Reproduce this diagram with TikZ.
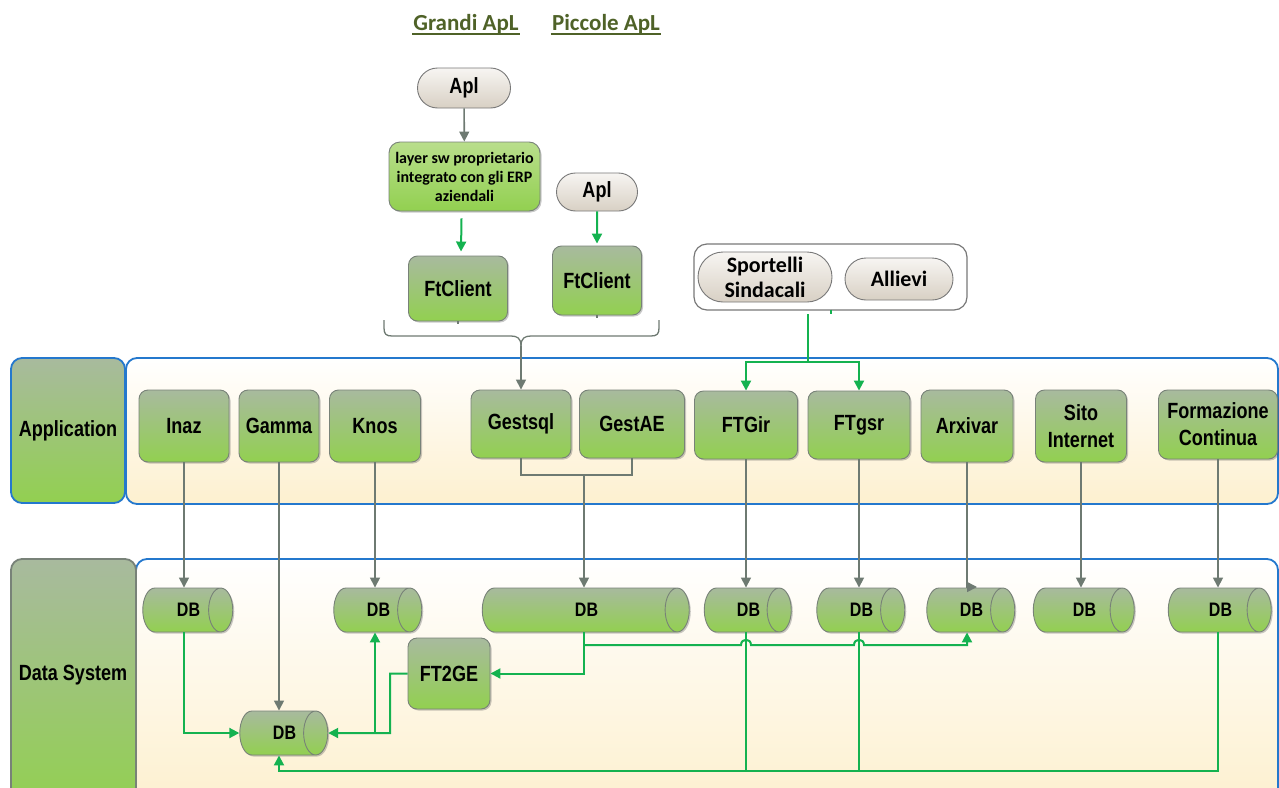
\documentclass[tikz,border=0pt]{standalone}
\usepackage{fontspec}
\setmainfont{Liberation Sans}
\newfontfamily\narfont{Liberation Sans}[FakeStretch=0.82]
\newfontfamily\calfont{Carlito}
\usetikzlibrary{arrows.meta,shapes.misc,shapes.geometric,shadows,calc}
\definecolor{ntop}{RGB}{168,186,158}
\definecolor{nbot}{RGB}{146,208,80}
\definecolor{nborder}{RGB}{120,130,120}
\definecolor{ltop}{RGB}{185,222,140}
\definecolor{ptop}{RGB}{247,245,242}
\definecolor{pbot}{RGB}{216,208,196}
\definecolor{pborder}{RGB}{120,120,120}
\definecolor{gcol}{RGB}{20,178,80}
\definecolor{acol}{RGB}{110,122,114}
\definecolor{bcol}{RGB}{36,120,205}
\definecolor{lanebot}{RGB}{253,240,207}
\definecolor{titlecol}{RGB}{79,98,40}
\begin{document}
\begin{tikzpicture}[x=1pt,y=-1pt,
  shad/.style={drop shadow={shadow xshift=1.5pt,shadow yshift=-1.5pt,opacity=0.3,fill=black!70}},
  appn/.style={shad,rounded corners=9pt,draw=nborder,line width=0.9pt,top color=ntop,bottom color=nbot,
    font=\narfont\bfseries\fontsize{22}{27}\selectfont,align=center,inner sep=0pt,text=black},
  layerbox/.style={appn,top color=ltop,rounded corners=11pt,font=\calfont\bfseries\fontsize{16}{19}\selectfont},
  dbn/.style={shad,cylinder,shape aspect=1.8,draw=nborder,line width=0.9pt,top color=ntop,bottom color=nbot,
    font=\narfont\bfseries\fontsize{19.5}{22}\selectfont,inner sep=0pt,minimum width=44pt,
    execute at begin node={\hspace*{14pt}}},
  pill/.style={rounded rectangle,draw=pborder,line width=0.9pt,top color=ptop,bottom color=pbot,
    font=\narfont\bfseries\fontsize{22}{27}\selectfont,inner sep=0pt,align=center},
  calpill/.style={pill,font=\calfont\bfseries\fontsize{22}{25}\selectfont},
  lane/.style={draw=bcol,line width=1.8pt,rounded corners=11pt,top color=white,bottom color=lanebot},
  lbl/.style={rounded corners=11pt,line width=1.8pt,top color=ntop,bottom color=nbot,
    font=\narfont\bfseries\fontsize{22}{27}\selectfont,inner sep=0pt},
  title/.style={font=\calfont\bfseries\fontsize{23}{27}\selectfont,text=titlecol,inner sep=1pt},
  aline/.style={draw=acol,line width=1.6pt},
  aarr/.style={aline,-{Triangle[length=10pt,width=10pt]}},
  gline/.style={draw=gcol,line width=2pt},
  garr/.style={gline,-{Triangle[length=10pt,width=10pt]}}
]
\clip (0,0) rectangle (1279,787);
% lanes
\path[lane] (126,358) rectangle (1278,504);
\path[lane] (136,559) rectangle (1278,805);
\node[lbl,draw=bcol,minimum width=114pt,minimum height=145pt] (lapp) at (68,430.5) {Application};
\node[lbl,draw=nborder,minimum width=125pt,minimum height=250pt] (ldata) at (73.5,684) {};
\node[font=\narfont\bfseries\fontsize{22}{27}\selectfont] (ldatat) at (73,675) {Data System};
% titles
\node[title] (tA) at (466,24) {Grandi ApL};
\node[title] (tB) at (606,24) {Piccole ApL};
\draw[titlecol,line width=1.6pt] ($(tA.south west)+(0,-1)$) -- ($(tA.south east)+(0,-1)$);
\draw[titlecol,line width=1.6pt] ($(tB.south west)+(0,-1)$) -- ($(tB.south east)+(0,-1)$);
% top part
\node[pill,minimum width=93pt,minimum height=40pt] (aplA) at (464,88) {Apl};
\node[layerbox,minimum width=151pt,minimum height=69pt] (layer) at (464.5,176.5) {layer sw proprietario\\integrato con gli ERP\\aziendali};
\node[appn,minimum width=99pt,minimum height=65pt] (ftA) at (458,288.5) {FtClient};
\node[pill,minimum width=81pt,minimum height=38pt] (aplB) at (597,192) {Apl};
\node[appn,minimum width=89pt,minimum height=69pt] (ftB) at (597,280.5) {FtClient};
\draw[aarr] (aplA) -- (layer);
\draw[garr] ($(layer.south)+(-3,7)$) -- ($(ftA.north)+(3,-4)$);
\draw[garr] (aplB) -- ($(ftB.north)+(0,-2)$);
\draw[aline,line width=1.2pt] (ftA.south) -- ++(0,3);
\draw[aline,line width=1.2pt] (ftB.south) -- ++(0,3);
% brace
\draw[aline,line width=1.3pt] (384,320) -- (384,328) .. controls (384,334) and (386,336) .. (392,336) -- (511,336) .. controls (517,336) and (521,338) .. (521,346);
\draw[aline,line width=1.3pt] (659,320) -- (659,328) .. controls (659,334) and (657,336) .. (651,336) -- (531,336) .. controls (525,336) and (521,338) .. (521,346);
\coordinate (bt) at (521,346);
% sportelli group
\node[draw=pborder,line width=1.2pt,rounded corners=13pt,fill=white,minimum width=273pt,minimum height=66pt] (grp) at (830.5,277) {};
\node[calpill,minimum width=134pt,minimum height=50pt] (sport) at (765,277) {Sportelli\\Sindacali};
\node[calpill,minimum width=108pt,minimum height=42pt] (allievi) at (899,279) {Allievi};
% application nodes
\node[appn,minimum width=90pt,minimum height=72pt] (inaz) at (184,426) {Inaz};
\node[appn,minimum width=80pt,minimum height=72pt] (gamma) at (279,426) {Gamma};
\node[appn,minimum width=91pt,minimum height=72pt] (knos) at (375,426) {Knos};
\node[appn,minimum width=100pt,minimum height=68pt] (gestsql) at (521,424) {Gestsql};
\node[appn,minimum width=105pt,minimum height=68pt] (gestae) at (632,424) {GestAE};
\node[appn,minimum width=103pt,minimum height=68pt] (ftgir) at (746,425) {FTGir};
\node[appn,minimum width=102pt,minimum height=68pt] (ftgsr) at (859,425) {FTgsr};
\node[appn,minimum width=92pt,minimum height=72pt] (arxivar) at (967,426) {Arxivar};
\node[appn,minimum width=91pt,minimum height=72pt] (sito) at (1081,426) {Sito\\Internet};
\node[appn,minimum width=119pt,minimum height=69pt] (formaz) at (1218,424.5) {Formazione\\Continua};
% DB nodes
\node[dbn,minimum height=90pt] (db1) at (181.5,610) {DB};
\node[dbn,minimum height=88pt] (dbk) at (371.5,610) {DB};
\node[dbn,minimum height=207pt] (dbg) at (579.5,610) {DB};
\node[dbn,minimum height=87pt] (dbf1) at (741.5,610) {DB};
\node[dbn,minimum height=88pt] (dbf2) at (854.5,610) {DB};
\node[dbn,minimum height=88pt] (dba) at (964.5,610) {DB};
\node[dbn,minimum height=101pt] (dbs) at (1077.5,610) {DB};
\node[dbn,minimum height=103pt] (dbfc) at (1213.5,610) {DB};
\node[dbn,minimum height=88pt] (dbm) at (277.5,733) {DB};
\node[appn,minimum width=82pt,minimum height=71pt] (ft2ge) at (449,673.5) {FT2GE};
% gray connectors
\draw[aarr] (bt) -- (gestsql.north);
\draw[aarr] (inaz.south) -- (inaz.south |- db1.north);
\draw[aarr] (gamma.south) -- (gamma.south |- dbm.north);
\draw[aarr] (knos.south) -- (knos.south |- dbk.north);
\coordinate (gj) at (584,475);
\draw[aline] (gestsql.south) |- (gj) -| (gestae.south);
\draw[aarr] (gj) -- (gj |- dbg.north);
\draw[aarr] (ftgir.south) -- (ftgir.south |- dbf1.north);
\draw[aarr] (ftgsr.south) -- (ftgsr.south |- dbf2.north);
\coordinate (ax) at (977,587);
\draw[aarr] (arxivar.south) |- (ax);
\draw[aarr] (sito.south) -- (sito.south |- dbs.north);
\draw[aarr] (formaz.south) -- (formaz.south |- dbfc.north);
% sportelli connectors
\coordinate (sj) at (808,362);
\draw[gline] (808,314) -- (sj);
\draw[gline] (grp.south) ++(0,-1) -- ++(0,4);
\draw[garr] (sj) -| (ftgir.north);
\draw[garr] (sj) -| (ftgsr.north);
% green data connectors
\draw[garr] (inaz.south |- db1.south) |- (dbm.west);
\coordinate (fj) at (390,733);
\draw[garr] (ft2ge.west) -| (fj) -- (dbm.east);
\draw[garr] (knos.south |- fj) -- (knos.south |- dbk.south);
\draw[garr] (gj |- dbg.south) |- (ft2ge.east);
\draw[garr] (584,645) -- (741,645) .. controls (741,638) and (751,638) .. (751,645)
  -- (854,645) .. controls (854,638) and (864,638) .. (864,645) -- (arxivar.south |- 0,645) -- (arxivar.south |- dba.south);
\coordinate (bl) at (279,771);
\draw[gline] (ftgir.south |- dbf1.south) -- (ftgir.south |- bl);
\draw[gline] (ftgsr.south |- dbf2.south) -- (ftgsr.south |- bl);
\draw[garr] (formaz.south |- dbfc.south) |- (bl) -- (bl |- dbm.south);
\end{tikzpicture}
\end{document}
